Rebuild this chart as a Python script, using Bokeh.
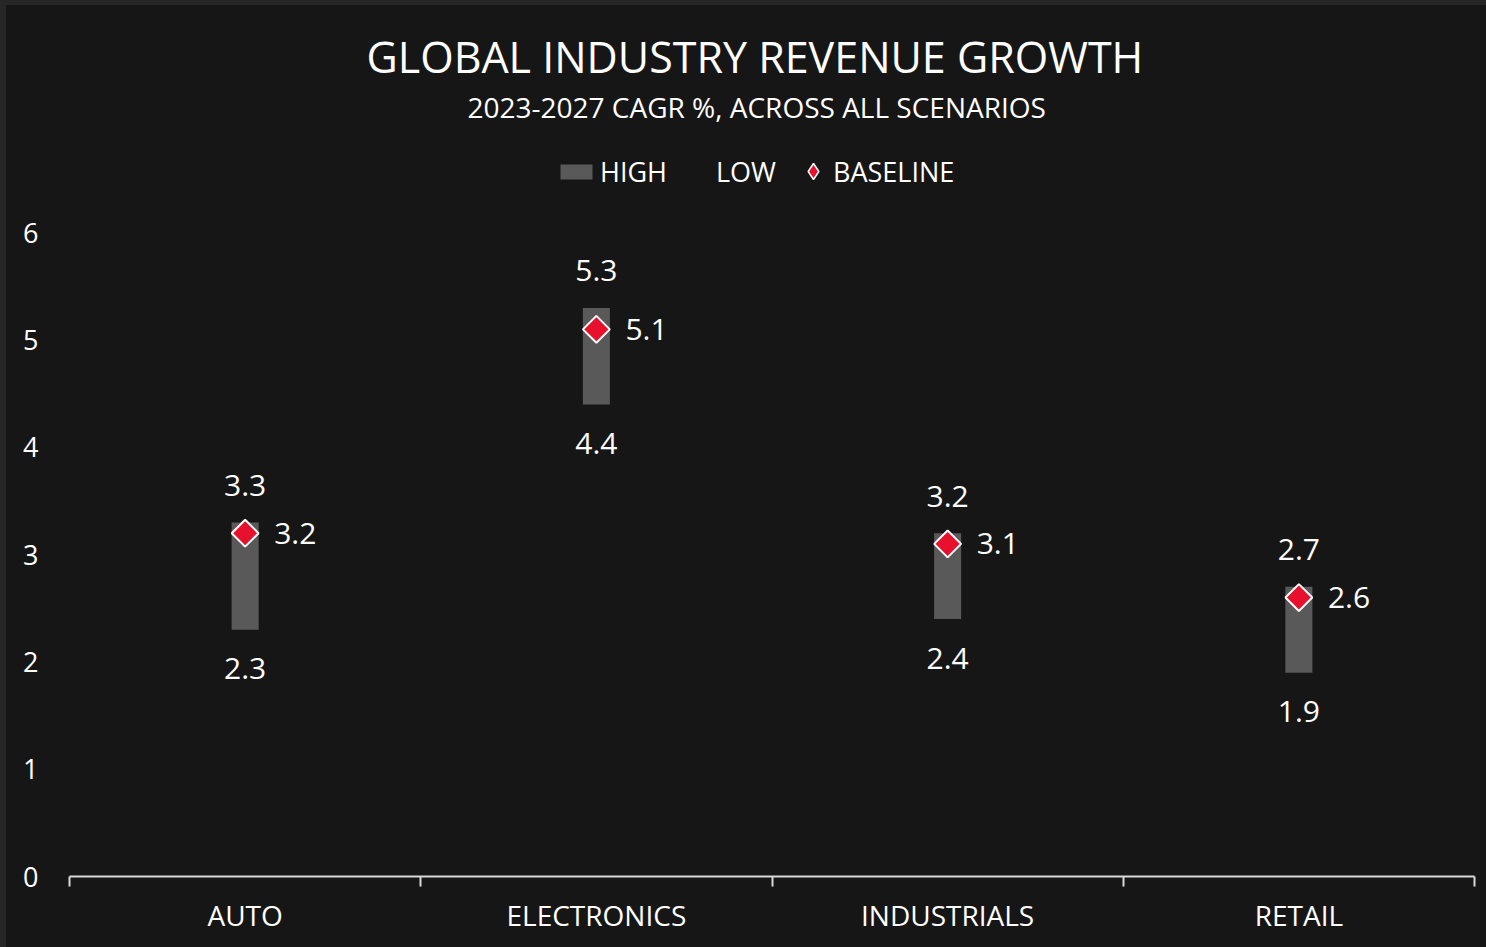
import math
from bokeh.plotting import figure
from bokeh.models import (Range1d, FixedTicker, LabelSet, ColumnDataSource, Legend,
                          LegendItem, Title)
from bokeh.core.properties import value
from bokeh.embed import file_html
from bokeh.resources import INLINE

categories = ["AUTO", "ELECTRONICS", "INDUSTRIALS", "RETAIL"]
high = [3.3, 5.3, 3.2, 2.7]
low = [2.3, 4.4, 2.4, 1.9]
baseline = [3.2, 5.1, 3.1, 2.6]
y_ticks = [0, 1, 2, 3, 4, 5, 6]

FONT = "Open Sans"
BG = "#161616"
EDGE = "#262626"
TXT = "#ffffff"
RED = "#E8112D"

n = len(categories)
xs = [i + 0.5 for i in range(n)]
src = ColumnDataSource(dict(
    x=xs, cat=categories, high=high, low=low, base=baseline,
    ang=[math.pi / 4] * n,
    high_s=[f"{v:.1f}" for v in high],
    low_s=[f"{v:.1f}" for v in low],
    base_s=[f"{v:.1f}" for v in baseline],
))

W, H = 1486, 947
p = figure(width=W, height=H, output_backend="svg", toolbar_location=None,
           x_range=Range1d(0, n), y_range=Range1d(0, 7.0),
           min_border_left=63, min_border_right=18, min_border_bottom=76,
           min_border_top=120)
p.background_fill_color = BG
p.border_fill_color = None
p.styles = {"background-color": BG, "border-left": f"6px solid {EDGE}",
            "border-top": f"5px solid {EDGE}"}
p.outline_line_color = None
p.grid.visible = False

# Titles (first added sits closest to the plot)
p.add_layout(Title(text="2023-2027 CAGR %, ACROSS ALL SCENARIOS", align="left",
                   text_font=FONT, text_font_size="28px", text_font_style="normal",
                   text_color=TXT, standoff=0, offset=398), "above")
p.add_layout(Title(text="GLOBAL INDUSTRY REVENUE GROWTH", align="left",
                   text_font=FONT, text_font_size="43px", text_font_style="normal",
                   text_color=TXT, standoff=0, offset=297), "above")

bw = 0.077
r_low = p.vbar(x="x", width=bw, bottom=0, top="low", source=src,
               fill_alpha=0, line_alpha=0)
r_high = p.vbar(x="x", width=bw, bottom="low", top="high", source=src,
                fill_color="#595959", line_color=None)
# diamond key used by the legend (hidden beneath the rotated squares)
r_base_key = p.scatter(x="x", y="base", source=src, marker="diamond", size=16,
                       fill_color=RED, line_color="white", line_width=1.5)
p.scatter(x="x", y="base", source=src, marker="square", angle="ang",
          size=19, fill_color=RED, line_color="white", line_width=2)

lbl = dict(source=src, text_font=value(FONT), text_font_size="30px", text_color=TXT,
           text_baseline="middle")
p.add_layout(LabelSet(x="x", y="high", text="high_s", text_align="center",
                      y_offset=37, **lbl))
p.add_layout(LabelSet(x="x", y="low", text="low_s", text_align="center",
                      y_offset=-39, **lbl))
p.add_layout(LabelSet(x="x", y="base", text="base_s", text_align="left",
                      x_offset=29, **lbl))

# x axis: category names centred, tick marks between categories
xa = p.xaxis[0]
xa.ticker = FixedTicker(ticks=xs, minor_ticks=list(range(n + 1)))
xa.major_label_overrides = {x: c for x, c in zip(xs, categories)}
xa.axis_line_color = "#d9d9d9"
xa.axis_line_width = 2
xa.major_tick_line_color = None
xa.major_tick_out = 0
xa.major_tick_in = 0
xa.minor_tick_line_color = "#d9d9d9"
xa.minor_tick_line_width = 2
xa.minor_tick_in = 0
xa.minor_tick_out = 10
xa.major_label_standoff = 9
xa.major_label_text_font = FONT
xa.major_label_text_font_size = "28px"
xa.major_label_text_color = TXT

ya = p.yaxis[0]
ya.ticker = FixedTicker(ticks=y_ticks)
ya.axis_line_color = None
ya.major_tick_line_color = None
ya.minor_tick_line_color = None
ya.major_tick_out = 0
ya.major_tick_in = 0
ya.major_label_standoff = 31
ya.major_label_text_font = FONT
ya.major_label_text_font_size = "27px"
ya.major_label_text_color = TXT

leg_common = dict(orientation="horizontal", background_fill_alpha=0,
                  border_line_color=None, label_text_color=TXT,
                  label_text_font=FONT, label_text_font_size="27px",
                  padding=0, margin=0)
legend1 = Legend(items=[LegendItem(label="HIGH", renderers=[r_high]),
                        LegendItem(label="LOW", renderers=[r_low])],
                 location=(487, 686), glyph_width=40, glyph_height=19,
                 label_standoff=4, spacing=5, **leg_common)
legend2 = Legend(items=[LegendItem(label="BASELINE", renderers=[r_base_key])],
                 location=(724, 685), glyph_width=40, glyph_height=40,
                 label_standoff=0, **leg_common)
p.add_layout(legend1, "center")
p.add_layout(legend2, "center")

open("out.html", "w").write(file_html(p, INLINE))
